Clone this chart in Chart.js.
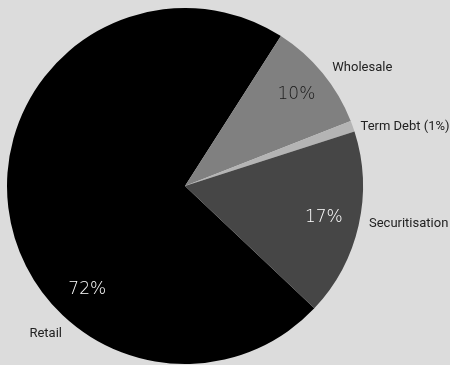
<!DOCTYPE html>
<html>
<head>
<meta charset="utf-8">
<script src="https://cdn.jsdelivr.net/npm/chart.js@4"></script>
<style>
  html, body { margin: 0; padding: 0; background: #dcdcdc; }
  #wrap { width: 450px; height: 365px; }
</style>
</head>
<body>
<div id="wrap"><canvas id="pie"></canvas></div>
<script>
// funding mix, clockwise starting from Retail
const categories = ["Retail", "Wholesale", "Term Debt (1%)", "Securitisation"];
const shares = [72, 10, 1, 17];
const pctLabels = ["72%", "10%", "", "17%"];
const sliceColors = ["#000000", "#808080", "#b4b4b4", "#464646"];

// where to put the texts: fraction along the arc (pct / name), radius factor, alignment
const place = [
  { pf: 0.347, lf: 0.347, pr: 0.80, lr: 1.14, align: "center", pctColor: "#ffffff" },
  { pf: 0.5,   lf: 0.52,  pr: 0.81, lr: 1.06, align: "left",   pctColor: "#1a1a1a" },
  { pf: 0.8,   lf: 0.8,   pr: 0.8,  lr: 1.04, align: "left",   pctColor: "#1a1a1a" },
  { pf: 0.5,   lf: 0.48,  pr: 0.80, lr: 1.055, align: "left",  pctColor: "#ffffff" }
];

const labelPlugin = {
  id: "sliceLabels",
  afterDatasetsDraw(chart) {
    const ctx = chart.ctx;
    const arcs = chart.getDatasetMeta(0).data;
    ctx.save();
    ctx.textBaseline = "middle";
    arcs.forEach((arc, i) => {
      const p = place[i];
      const span = arc.endAngle - arc.startAngle;
      const r = arc.outerRadius;
      // percentage inside
      if (pctLabels[i]) {
        const a = arc.startAngle + span * p.pf;
        ctx.font = "300 17px 'DejaVu Sans'";
        ctx.fillStyle = p.pctColor;
        ctx.textAlign = "center";
        ctx.fillText(pctLabels[i], arc.x + Math.cos(a) * r * p.pr, arc.y + Math.sin(a) * r * p.pr);
      }
      // name outside
      const b = arc.startAngle + span * p.lf;
      ctx.font = "13px 'Liberation Sans Narrow', 'Roboto', sans-serif";
      ctx.fillStyle = "#222222";
      ctx.textAlign = p.align;
      ctx.fillText(categories[i], arc.x + Math.cos(b) * r * p.lr, arc.y + Math.sin(b) * r * p.lr);
    });
    ctx.restore();
  }
};

new Chart(document.getElementById("pie"), {
  type: "pie",
  data: {
    labels: categories,
    datasets: [{
      data: shares,
      backgroundColor: sliceColors,
      borderWidth: 0
    }]
  },
  options: {
    responsive: true,
    maintainAspectRatio: false,
    animation: false,
    rotation: 133.4,
    layout: { padding: { left: 7, right: 87, top: 8, bottom: 1 } },
    plugins: {
      legend: { display: false },
      tooltip: { enabled: false }
    }
  },
  plugins: [labelPlugin]
});
</script>
</body>
</html>
